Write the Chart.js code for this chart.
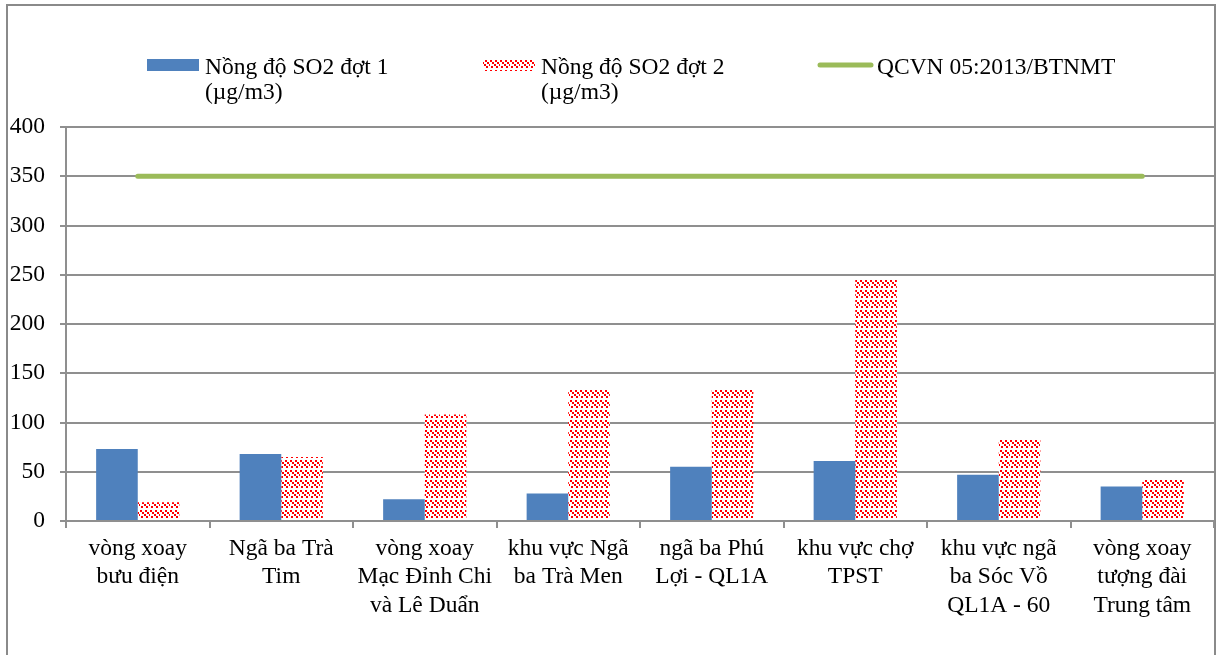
<!DOCTYPE html>
<html>
<head>
<meta charset="utf-8">
<script src="https://cdn.jsdelivr.net/npm/chart.js@4.4.1/dist/chart.umd.min.js"></script>
<style>
  html, body { margin: 0; padding: 0; background: #fff; }
  #wrap { position: relative; width: 1216px; height: 655px; overflow: hidden; }
  canvas { display: block; }
</style>
</head>
<body>
<div id="wrap"><canvas id="c" width="1216" height="655"></canvas></div>
<script>
// Measurement sites (multi-line tick labels)
const sites = [
  ['vòng xoay', 'bưu điện'],
  ['Ngã ba Trà', 'Tim'],
  ['vòng xoay', 'Mạc Đỉnh Chi', 'và Lê Duẩn'],
  ['khu vực Ngã', 'ba Trà Men'],
  ['ngã ba Phú', 'Lợi - QL1A'],
  ['khu vực chợ', 'TPST'],
  ['khu vực ngã', 'ba Sóc Vồ', 'QL1A - 60'],
  ['vòng xoay', 'tượng đài', 'Trung tâm']
];

// SO2 concentration, µg/m3
const so2Round1 = [73, 68, 22, 28, 55, 61, 47, 35];
const so2Round2 = [19, 65, 108, 134, 134, 245, 83, 42];
// National standard limit
const qcvnLimit = [350, 350, 350, 350, 350, 350, 350, 350];

const yTicks = [0, 50, 100, 150, 200, 250, 300, 350, 400];

const legendRound1 = ['Nồng độ SO2 đợt 1', '(µg/m3)'];
const legendRound2 = ['Nồng độ SO2 đợt 2', '(µg/m3)'];
const legendLimit = ['QCVN 05:2013/BTNMT'];

const FONT = '"Liberation Serif", "Times New Roman", serif';
const FONT_SIZE = 23.5;
const BLUE = '#4F81BD';
const RED = '#FF0000';
const GREEN = '#9BBB59';
const GRID = '#8f8f8f';

// Red dashed diagonal fill for the second round
function makeHatch() {
  const t = document.createElement('canvas');
  t.width = 10; t.height = 10;
  const g = t.getContext('2d');
  g.fillStyle = '#ffffff';
  g.fillRect(0, 0, 10, 10);
  g.fillStyle = RED;
  [0, 5].forEach(o => {
    for (let k = 0; k < 5; k++) {
      if (k === 4) continue;
      g.fillRect((o + 2 * k) % 10, 2 * k, 2, 2);
    }
  });
  return g.createPattern(t, 'repeat');
}
const hatch = makeHatch();

// Outer frame around the chart
const framePlugin = {
  id: 'frame',
  beforeDraw(chart) {
    const ctx = chart.ctx;
    ctx.save();
    ctx.strokeStyle = '#8a8a8a';
    ctx.lineWidth = 2;
    ctx.strokeRect(7, 5, 1208, 700);
    ctx.restore();
  }
};

// Legend with wrapped text
const legendPlugin = {
  id: 'wrapLegend',
  afterDraw(chart) {
    const ctx = chart.ctx;
    const items = chart.options.plugins.wrapLegend.items;
    ctx.save();
    ctx.font = FONT_SIZE + 'px ' + FONT;
    ctx.textBaseline = 'alphabetic';
    items.forEach(it => {
      const ds = chart.data.datasets[it.index];
      if (it.kind === 'box') {
        ctx.fillStyle = ds.backgroundColor;
        ctx.fillRect(it.x, it.y - 6, 52, 12);
      } else {
        ctx.strokeStyle = ds.borderColor;
        ctx.lineWidth = 5;
        ctx.lineCap = 'round';
        ctx.beginPath();
        ctx.moveTo(it.x + 2, it.y);
        ctx.lineTo(it.x + 53, it.y);
        ctx.stroke();
      }
      ctx.fillStyle = '#000';
      it.text.forEach((line, i) => {
        ctx.fillText(line, it.tx, 74 + i * 25);
      });
    });
    ctx.restore();
  }
};

new Chart(document.getElementById('c'), {
  data: {
    labels: sites,
    datasets: [
      { type: 'bar', label: legendRound1.join(' '), data: so2Round1,
        backgroundColor: BLUE, order: 2 },
      { type: 'bar', label: legendRound2.join(' '), data: so2Round2,
        backgroundColor: hatch, order: 2 },
      { type: 'line', label: legendLimit.join(' '), data: qcvnLimit,
        borderColor: GREEN, borderWidth: 5, borderCapStyle: 'round',
        pointRadius: 0, fill: false, order: 1 }
    ]
  },
  options: {
    responsive: false,
    animation: false,
    events: [],
    layout: { padding: { top: 127, right: 2, left: 0, bottom: 0 } },
    datasets: { bar: { categoryPercentage: 0.58, barPercentage: 1 } },
    plugins: {
      legend: { display: false },
      tooltip: { enabled: false },
      wrapLegend: {
        items: [
          { index: 0, kind: 'box', x: 147, y: 65, tx: 205, text: legendRound1 },
          { index: 1, kind: 'box', x: 483, y: 65, tx: 541, text: legendRound2 },
          { index: 2, kind: 'line', x: 818, y: 65, tx: 877, text: legendLimit }
        ]
      }
    },
    scales: {
      x: {
        offset: true,
        grid: { offset: true, drawOnChartArea: false, color: GRID, lineWidth: 2, tickLength: 7 },
        border: { color: GRID, width: 2 },
        ticks: { color: '#000', font: { family: FONT, size: FONT_SIZE, lineHeight: 1.2 },
                 maxRotation: 0, autoSkip: false, padding: 7 },
        afterFit(s) { s.height = 134; }
      },
      y: {
        min: 0, max: 400,
        afterBuildTicks(s) { s.ticks = yTicks.map(v => ({ value: v })); },
        grid: { color: GRID, lineWidth: 2, tickLength: 6 },
        border: { color: GRID, width: 2 },
        ticks: { color: '#000', font: { family: FONT, size: FONT_SIZE }, padding: 15 },
        afterFit(s) { s.width = 66; }
      }
    }
  },
  plugins: [framePlugin, legendPlugin]
});
</script>
</body>
</html>
